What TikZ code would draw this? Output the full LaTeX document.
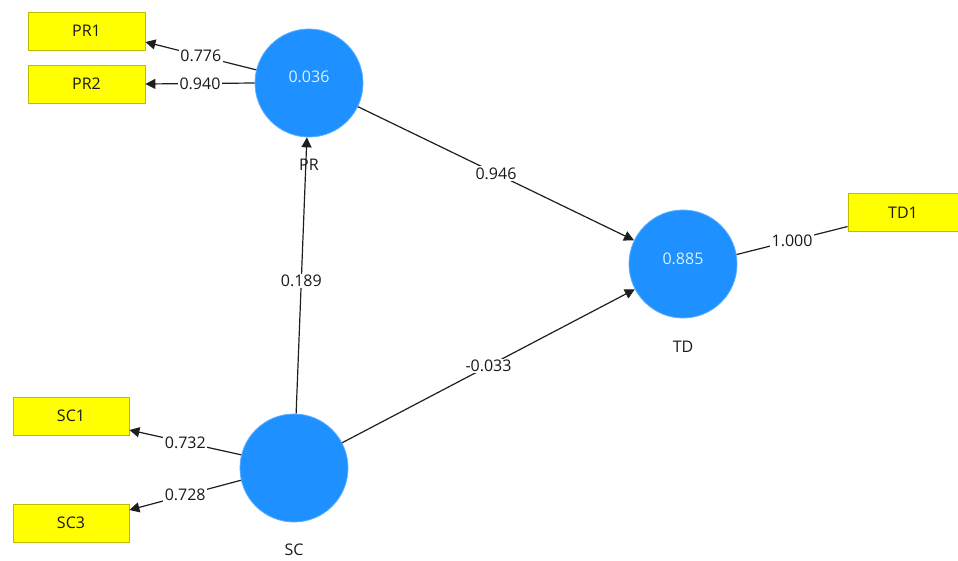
\documentclass[tikz,border=0pt]{standalone}
\usepackage{fontspec}
\setmainfont{Open Sans}
\usetikzlibrary{arrows.meta,calc}
\definecolor{lvblue}{RGB}{30,144,255}
\definecolor{lvedge}{RGB}{90,175,255}
\definecolor{lvtext}{RGB}{220,240,255}
\definecolor{mvyellow}{RGB}{255,255,0}
\definecolor{mvedge}{RGB}{190,190,0}
\definecolor{linecol}{RGB}{30,30,30}
\begin{document}
\begin{tikzpicture}[x=1pt,y=-1pt,
  font=\fontsize{16pt}{19pt}\selectfont,
  latent/.style={circle,fill=lvblue,draw=lvedge,line width=0.8pt,minimum size=108pt,inner sep=0pt},
  lvval/.style={text=lvtext,inner sep=0pt},
  lvname/.style={text=black!90,inner sep=0pt},
  manifest/.style={rectangle,fill=mvyellow,draw=mvedge,line width=0.8pt,minimum width=116pt,minimum height=38pt,inner sep=0pt,text=black!90},
  path/.style={draw=linecol,line width=1.2pt},
  arr/.style={path,-{Triangle[length=10pt,width=10pt]}},
  wlabel/.style={fill=white,inner sep=1.5pt,text=black!90}]
\useasboundingbox (0,0) rectangle (958,560);
% latent variables
\node[latent] (PR) at (309,83) {};
\node[latent] (TD) at (683,264) {};
\node[latent] (SC) at (294,468) {};
\node[lvval] (PRv) at ($(PR)+(0,-6)$) {0.036};
\node[lvval] (TDv) at ($(TD)+(0,-5)$) {0.885};
\node[lvname] (PRn) at (309,165) {PR};
\node[lvname] (TDn) at (683,347) {TD};
\node[lvname] (SCn) at (294,550) {SC};
% indicators
\node[manifest,minimum width=117pt] (PR1) at (86.5,31) {PR1};
\node[manifest,minimum width=117pt] (PR2) at (86.5,84) {PR2};
\node[manifest] (SC1) at (71,416) {SC1};
\node[manifest] (SC3) at (71,523) {SC3};
\node[manifest,minimum width=110pt] (TD1) at (903,212.5) {TD1};
% outer loadings
\draw[arr] (PR.166) -- node[wlabel]{0.776} ($(PR1.east)+(0,11)$);
\draw[arr] (PR.180) -- node[wlabel]{0.940} ($(PR2.east)+(0,0)$);
\draw[arr] (SC.166) -- node[wlabel]{0.732} ($(SC1.east)+(0,14)$);
\draw[arr] (SC.193) -- node[wlabel]{0.728} ($(SC3.east)+(0,-13)$);
\draw[path] (TD.10) -- node[wlabel]{1.000} ($(TD1.west)+(0,14)$);
% structural paths
\draw[arr] (SC) -- node[wlabel,pos=0.48]{0.189} (PR);
\draw[arr] (PR) -- node[wlabel,pos=0.5]{0.946} (TD);
\draw[arr] (SC) -- node[wlabel,pos=0.5]{-0.033} (TD);
\end{tikzpicture}
\end{document}
